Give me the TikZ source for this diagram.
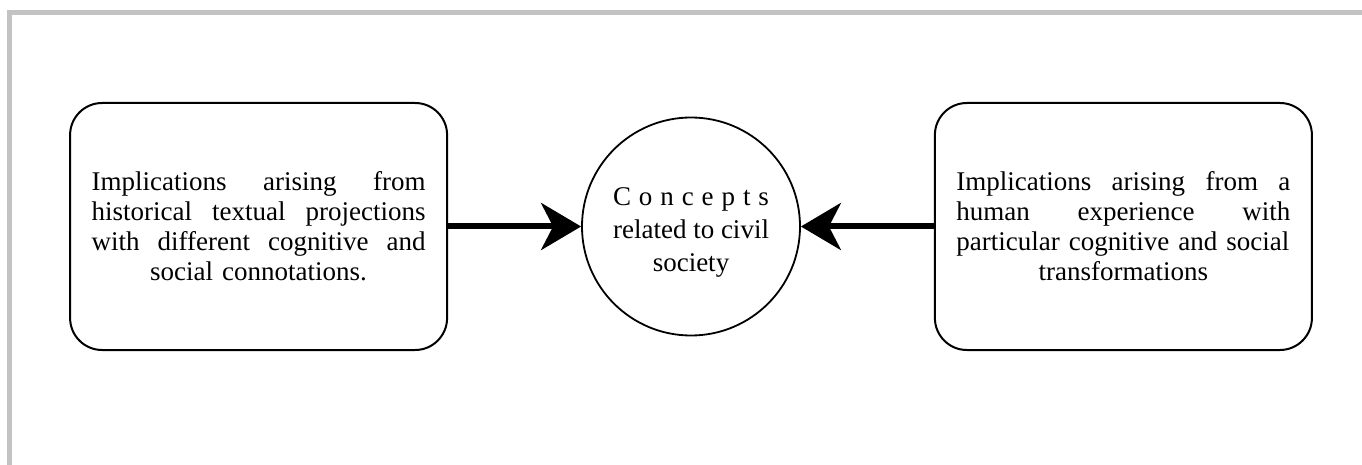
\documentclass[tikz,border=0pt]{standalone}
\usepackage{fontspec}
\usepackage{calc}
\setmainfont{Liberation Serif}
\usetikzlibrary{arrows.meta,positioning}
\definecolor{framegrey}{HTML}{C3C3C3}
\definecolor{ink}{HTML}{000000}
\newlength{\blockwidth}
\setlength{\blockwidth}{167pt}
% one justified line, stretched to the full text width
\newcommand{\fullline}[1]{\makebox[\blockwidth][s]{#1}}
\tikzset{
  implbox/.style = {draw=ink, line width=1pt, rounded corners=16pt,
                    minimum width=188.5pt, minimum height=123.5pt, inner sep=0pt,
                    text width=\blockwidth, align=center, text=ink,
                    font=\fontsize{13.5pt}{15pt}\selectfont},
  hub/.style     = {circle, draw=ink, line width=0.9pt, minimum size=109pt,
                    inner sep=0pt, align=center, text=ink,
                    font=\fontsize{13.5pt}{16.5pt}\selectfont},
  push/.style    = {-{Stealth[length=20pt,width=23.5pt,inset=6pt]}, draw=ink, line width=3pt},
}
\begin{document}
\begin{tikzpicture}[x=0.5pt,y=-0.5pt,node distance=66.5pt]
  \useasboundingbox (0,0) rectangle (1362,465);
  \draw[framegrey,line width=2.5pt] (1362,12.5) -- (9.5,12.5) -- (9.5,465);
  \node[hub] (civil) at (691,226.5)
    {\rule{0pt}{14.5pt}\makebox[\widthof{related to civil}][s]{C\hfill o\hfill n\hfill c\hfill e\hfill p\hfill t\hfill s}\\
     related to civil\\society};
  \node[implbox,left=of civil] (hist)
    {\fullline{Implications\hfill arising\hfill from}\\
     \fullline{historical\hfill textual\hfill projections}\\
     \fullline{with\hfill different\hfill cognitive\hfill and}\\
     social connotations.};
  \node[implbox,right=of civil] (human)
    {\fullline{Implications\hfill arising\hfill from\hfill a}\\
     \fullline{human\hfill experience\hfill with}\\
     \fullline{particular cognitive and social}\\
     transformations};
  \draw[push] (hist) -- (civil);
  \draw[push] (human) -- (civil);
\end{tikzpicture}
\end{document}
